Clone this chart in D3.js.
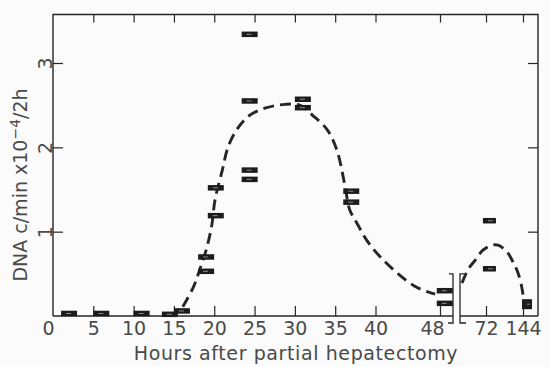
<!DOCTYPE html>
<html>
<head>
<meta charset="utf-8">
<script src="https://cdn.jsdelivr.net/npm/d3@7"></script>
<style>
  html, body { margin: 0; padding: 0; background: #fbfbfb; }
  svg { display: block; }
  text { font-family: "DejaVu Sans", sans-serif; fill: #4a4a4a; }
</style>
</head>
<body>
<svg id="chart" width="550" height="367"></svg>
<script>
// Incorporation of labelled thymidine into liver DNA after partial hepatectomy.
// Each sample is a 2-h labelling period, drawn as a short bar starting at its hour.
const sampleHours = [1, 5, 10, 13.5, 15, 18, 18, 19.2, 19.2, 23.4, 23.4, 23.4, 23.4,
                     30, 30, 36, 36, 47.6, 47.6, 70.4, 70.4, 142];
const sampleDna   = [0.03, 0.03, 0.03, 0.02, 0.06, 0.70, 0.53, 1.52, 1.19, 3.34, 2.55, 1.73, 1.62,
                     2.57, 2.47, 1.48, 1.35, 0.30, 0.15, 1.13, 0.56, 0.14];

// Hand-fitted trend: first wave of synthesis (16-48 h)
const waveOneHours = [16.1, 17.4, 18.2, 19.1, 19.7, 20.1, 21.0, 21.7, 22.8, 24.4, 26.5, 28.8,
                      30.6, 32.2, 34.0, 35.2, 36.2, 36.8, 37.7, 38.9, 40.6, 42.7, 45.1, 47.4];
const waveOneDna   = [0.11, 0.34, 0.55, 0.82, 1.08, 1.38, 1.73, 2.00, 2.21, 2.38, 2.47, 2.51,
                      2.50, 2.38, 2.21, 1.97, 1.55, 1.26, 1.10, 0.90, 0.70, 0.51, 0.34, 0.26];
// Second, smaller wave (after the axis break)
const waveTwoHours = [59.5, 62.6, 66.3, 70.4, 83.7, 95.4, 112.9, 124.6, 134.3, 142, 144];
const waveTwoDna   = [0.39, 0.55, 0.66, 0.78, 0.84, 0.84, 0.76, 0.64, 0.51, 0.33, 0.25];

const xTickValues = [0, 5, 10, 15, 20, 25, 30, 35, 40, 48, 72, 144];
const yTickValues = [1, 2, 3];
const xTitle = "Hours after partial hepatectomy";

const svg = d3.select("#chart");
const plotLeft = 53, plotRight = 538, plotTop = 14.5, plotBottom = 316;
const ink = "#262626";
const labelFont = 19;

// Broken time axis: linear up to 48 h, then compressed for 72 and 144 h
const x = d3.scaleLinear().domain([0, 48, 72, 144]).range([plotLeft, 440, 486, 523]);
const y = d3.scaleLinear().domain([0, 3]).range([plotBottom, 63]);

const breakX = x(48) + 16.5;   // centre of the axis break
const breakHalf = 3.5;

// Frame (left, top, right) and the two pieces of the time axis
const frame = svg.append("g").attr("stroke", ink).attr("stroke-width", 1.4).attr("fill", "none");
frame.append("path").attr("d", `M${plotLeft},${plotBottom}V${plotTop}H${plotRight}V${plotBottom}`);
frame.append("path").attr("d", `M${plotLeft},${plotBottom}H${breakX - breakHalf}`);
frame.append("path").attr("d", `M${breakX + breakHalf},${plotBottom}H${plotRight}`);

// Break marks
const bTop = y(0.5), bBot = plotBottom + 7;
frame.append("path").attr("stroke-width", 1.3)
  .attr("d", `M${breakX - breakHalf - 4},${bTop}H${breakX - breakHalf}V${bBot}H${breakX - breakHalf - 5}`);
frame.append("path").attr("stroke-width", 1.3)
  .attr("d", `M${breakX + breakHalf + 4},${bTop}H${breakX + breakHalf}V${bBot}H${breakX + breakHalf + 6}`);

function styleAxis(g) {
  g.select(".domain").remove();
  g.selectAll(".tick line").attr("stroke", ink).attr("stroke-width", 1.2);
}

// Bottom axis: inward ticks with labels
const labelShift = {0: -5, 48: -8};
const xAxis = svg.append("g").attr("transform", `translate(0,${plotBottom})`)
  .call(d3.axisBottom(x).tickValues(xTickValues).tickFormat(d3.format("d"))
        .tickSizeInner(-10).tickSizeOuter(0).tickPadding(6))
  .call(styleAxis);
xAxis.selectAll(".tick").filter(d => d === 0).select("line").remove();
xAxis.selectAll(".tick text")
  .attr("font-size", labelFont).attr("font-family", "DejaVu Sans, sans-serif").attr("fill", "#4a4a4a")
  .attr("dx", d => labelShift[d] || 0);

// Top axis: mirrored short ticks
svg.append("g").attr("transform", `translate(0,${plotTop})`)
  .call(d3.axisTop(x).tickValues(xTickValues.filter(d => d > 0)).tickFormat("")
        .tickSizeInner(-8).tickSizeOuter(0))
  .call(styleAxis);

// Left axis: inward ticks, rotated labels
const yAxis = svg.append("g").attr("transform", `translate(${plotLeft},0)`)
  .call(d3.axisLeft(y).tickValues(yTickValues).tickFormat(d3.format("d"))
        .tickSizeInner(-10).tickSizeOuter(0))
  .call(styleAxis);
yAxis.selectAll(".tick text")
  .attr("x", null).attr("dy", null).attr("y", null)
  .attr("text-anchor", "middle")
  .attr("transform", "translate(-1,0) rotate(-90)")
  .attr("font-size", labelFont).attr("font-family", "DejaVu Sans, sans-serif").attr("fill", "#4a4a4a");

// Right axis: inward ticks only
svg.append("g").attr("transform", `translate(${plotRight},0)`)
  .call(d3.axisRight(y).tickValues(yTickValues).tickFormat("")
        .tickSizeInner(-10).tickSizeOuter(0))
  .call(styleAxis);

// Trend curves
const line = d3.line().x(d => x(d[0])).y(d => y(d[1])).curve(d3.curveCatmullRom.alpha(0.5));
[[waveOneHours, waveOneDna], [waveTwoHours, waveTwoDna]].forEach(([hs, vs]) => {
  svg.append("path")
    .datum(hs.map((h, i) => [h, vs[i]]))
    .attr("d", line)
    .attr("fill", "none").attr("stroke", ink).attr("stroke-width", 2.9)
    .attr("stroke-dasharray", "11,6");
});

// Sample bars
const samples = sampleHours.map((h, i) => ({h, v: sampleDna[i], last: h > 100}));
const bars = svg.append("g");
bars.selectAll("rect.bar").data(samples).join("rect")
  .attr("class", "bar")
  .attr("x", d => x(d.h))
  .attr("width", d => d.last ? 10 : (d.h > 48 ? 13 : 16))
  .attr("y", d => y(d.v) - (d.last ? 5 : 2.75))
  .attr("height", d => d.last ? 10 : 5.5)
  .attr("fill", "#1c1c1c");
bars.selectAll("rect.fleck").data(samples).join("rect")
  .attr("class", "fleck")
  .attr("x", d => x(d.h) + 5)
  .attr("width", d => d.last ? 3 : 5)
  .attr("y", d => y(d.v) - 0.5)
  .attr("height", 1)
  .attr("fill", "#8c8c8c");

// Axis titles
svg.append("text")
  .attr("x", 296).attr("y", 360)
  .attr("text-anchor", "middle").attr("font-size", labelFont).attr("letter-spacing", 0.6)
  .text(xTitle);

const yTitle = svg.append("text")
  .attr("transform", "translate(27,185) rotate(-90)")
  .attr("text-anchor", "middle").attr("font-size", labelFont);
yTitle.append("tspan").text("DNA c/min x10");
yTitle.append("tspan").attr("dy", -7).attr("font-size", 14).text("\u22124");
yTitle.append("tspan").attr("dy", 7).text("/2h");
</script>
</body>
</html>
